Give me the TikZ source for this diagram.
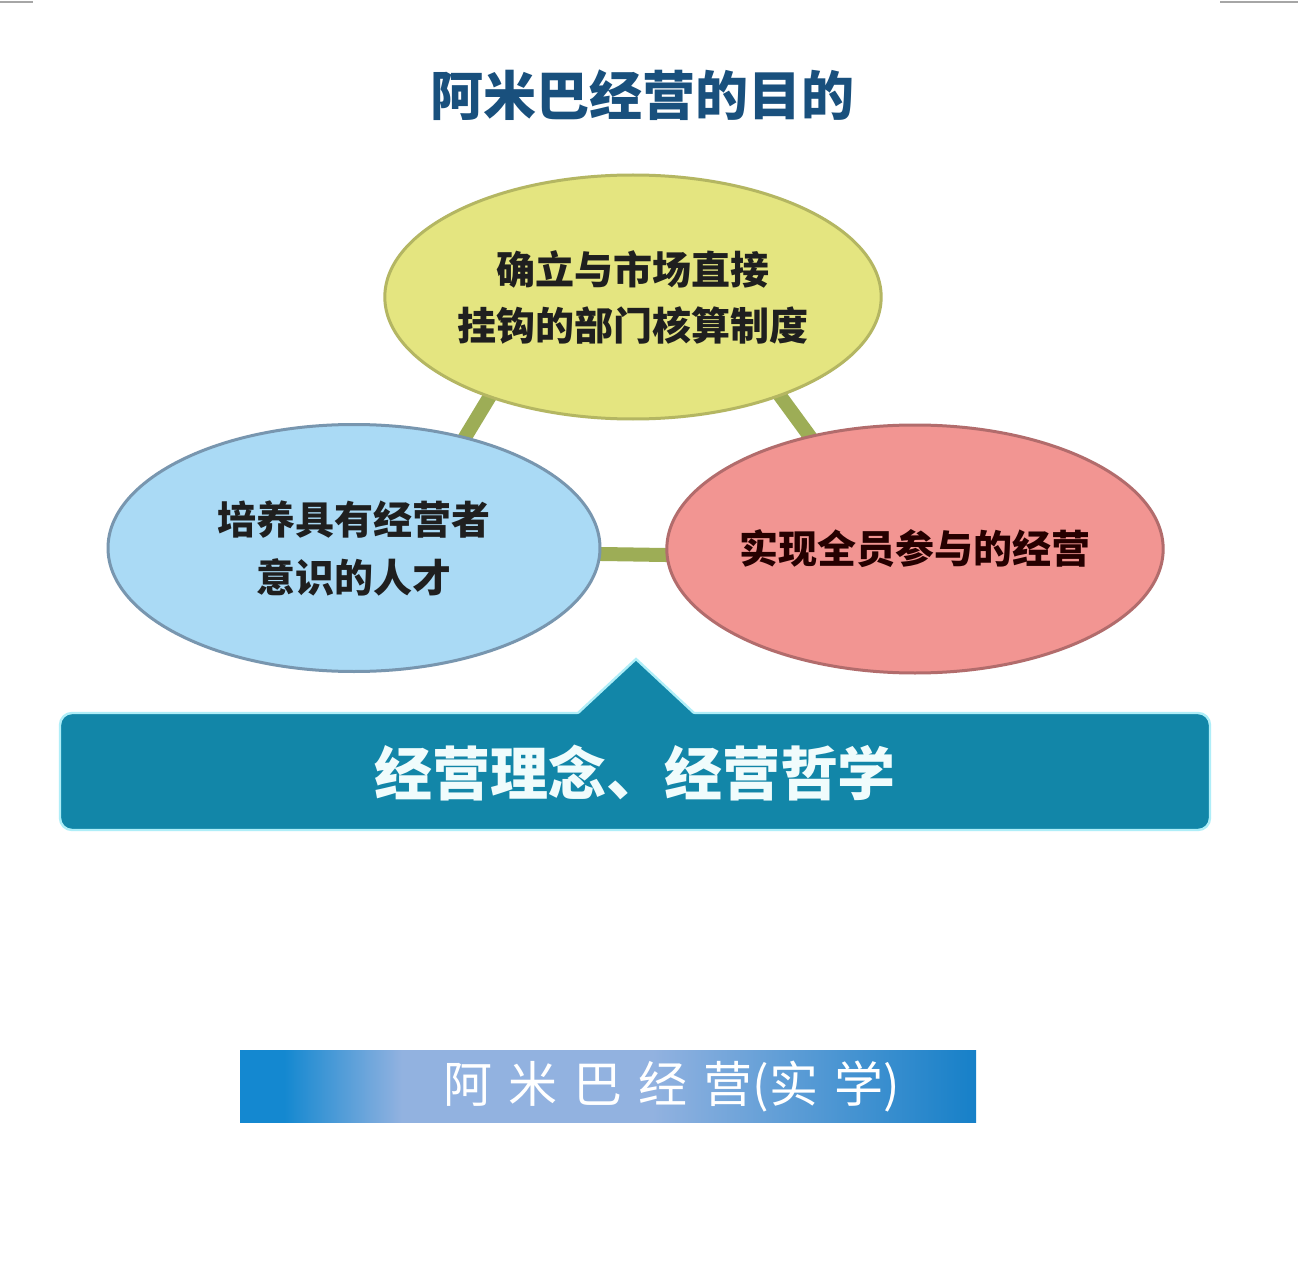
\documentclass[tikz,border=0pt]{standalone}
\usepackage{fontspec}
\newfontfamily\cjk{Noto Sans CJK SC}
\usetikzlibrary{shapes.geometric,backgrounds}
\definecolor{titlecol}{RGB}{25,80,125}
\definecolor{yelfill}{RGB}{228,229,128}
\definecolor{yeldraw}{RGB}{180,182,98}
\definecolor{bluefill}{RGB}{170,218,245}
\definecolor{bluedraw}{RGB}{120,150,175}
\definecolor{pinkfill}{RGB}{242,149,146}
\definecolor{pinkdraw}{RGB}{178,108,108}
\definecolor{conncol}{RGB}{157,173,86}
\definecolor{bannercol}{RGB}{18,134,168}
\definecolor{bannerglow}{RGB}{175,238,248}
\definecolor{bA}{RGB}{20,136,208}
\definecolor{bB}{RGB}{146,178,224}
\definecolor{bC}{RGB}{22,128,200}
\pgfdeclarehorizontalshading{bshade}{100bp}{color(0bp)=(bA); color(25bp)=(bA); color(28bp)=(bA); color(36bp)=(bB); color(53bp)=(bB); color(75bp)=(bC); color(100bp)=(bC)}
\newcommand{\csp}{\hspace{8pt}}
\tikzset{
  goal/.style={ellipse, inner sep=0pt, line width=1.5pt, align=center,
    font=\cjk\bfseries\fontsize{19.5}{28}\selectfont},
  conn/.style={conncol, line width=7pt, shorten <=-8pt, shorten >=-8pt},
  topline/.style={draw=gray!70, line width=1.2pt},
  glow/.style={draw=bannerglow, line width=1.2pt}
}
\begin{document}
\begin{tikzpicture}[x=0.5pt,y=-0.5pt]
\useasboundingbox (0,0) rectangle (1298,1279);
\begin{scope}[on background layer]
  \fill[white] (0,0) rectangle (1298,1279);
\end{scope}
% top corner marks
\coordinate (tl1) at (0,2); \coordinate (tl2) at (33,2);
\coordinate (tr1) at (1220,2); \coordinate (tr2) at (1298,2);
\draw[topline] (tl1) -- (tl2);
\draw[topline] (tr1) -- (tr2);
% title
\node[font=\cjk\bfseries\fontsize{26.5}{30}\selectfont, text=titlecol] (title) at (642,95) {阿米巴经营的目的};
% ellipses
\node[goal, fill=yelfill, draw=yeldraw, minimum width=245pt, minimum height=122pt, text={black!88}] (top) at (633,297) {确立与市场直接\\挂钩的部门核算制度};
\node[goal, fill=bluefill, draw=bluedraw, minimum width=246pt, minimum height=123.5pt, text={black!88}, font=\cjk\bfseries\fontsize{19.5}{29}\selectfont] (left) at (354,548) {培养具有经营者\\意识的人才};
\node[goal, fill=pinkfill, draw=pinkdraw, minimum width=247pt, minimum height=124pt, text={black!75!red!60!black}] (right) at (915,549) {实现全员参与的经营};
% connectors
\begin{scope}[on background layer]
  \draw[conn] (top.215) -- (left.45);
  \draw[conn] (top.-34) -- (right.133);
  \draw[conn] ([yshift=-3pt]left.east) -- ([yshift=-3pt]right.west);
\end{scope}
% banner
\draw[glow, fill=bannercol, rounded corners=6pt] (60,713) rectangle (1210,830);
\coordinate (tA) at (578,713); \coordinate (tB) at (636,659); \coordinate (tC) at (694,713);
\fill[bannercol] (576,716) -- (tB) -- (696,716) -- cycle;
\draw[glow] (tA) -- (tB) -- (tC);
\node[font=\cjk\bfseries\fontsize{29}{32}\selectfont, text={rgb,255:red,240;green,252;blue,252}] (philo) at (635,773) {经营理念、经营哲学};
% bottom banner
\shade[shading=bshade] (240,1050) rectangle (976,1122);
\node[font=\cjk\fontsize{24.5}{27}\selectfont, text=white] (amoeba) at (672,1086) {阿\csp{}米\csp{}巴\csp{}经\csp{}营(实\csp{}学)};
\end{tikzpicture}
\end{document}
